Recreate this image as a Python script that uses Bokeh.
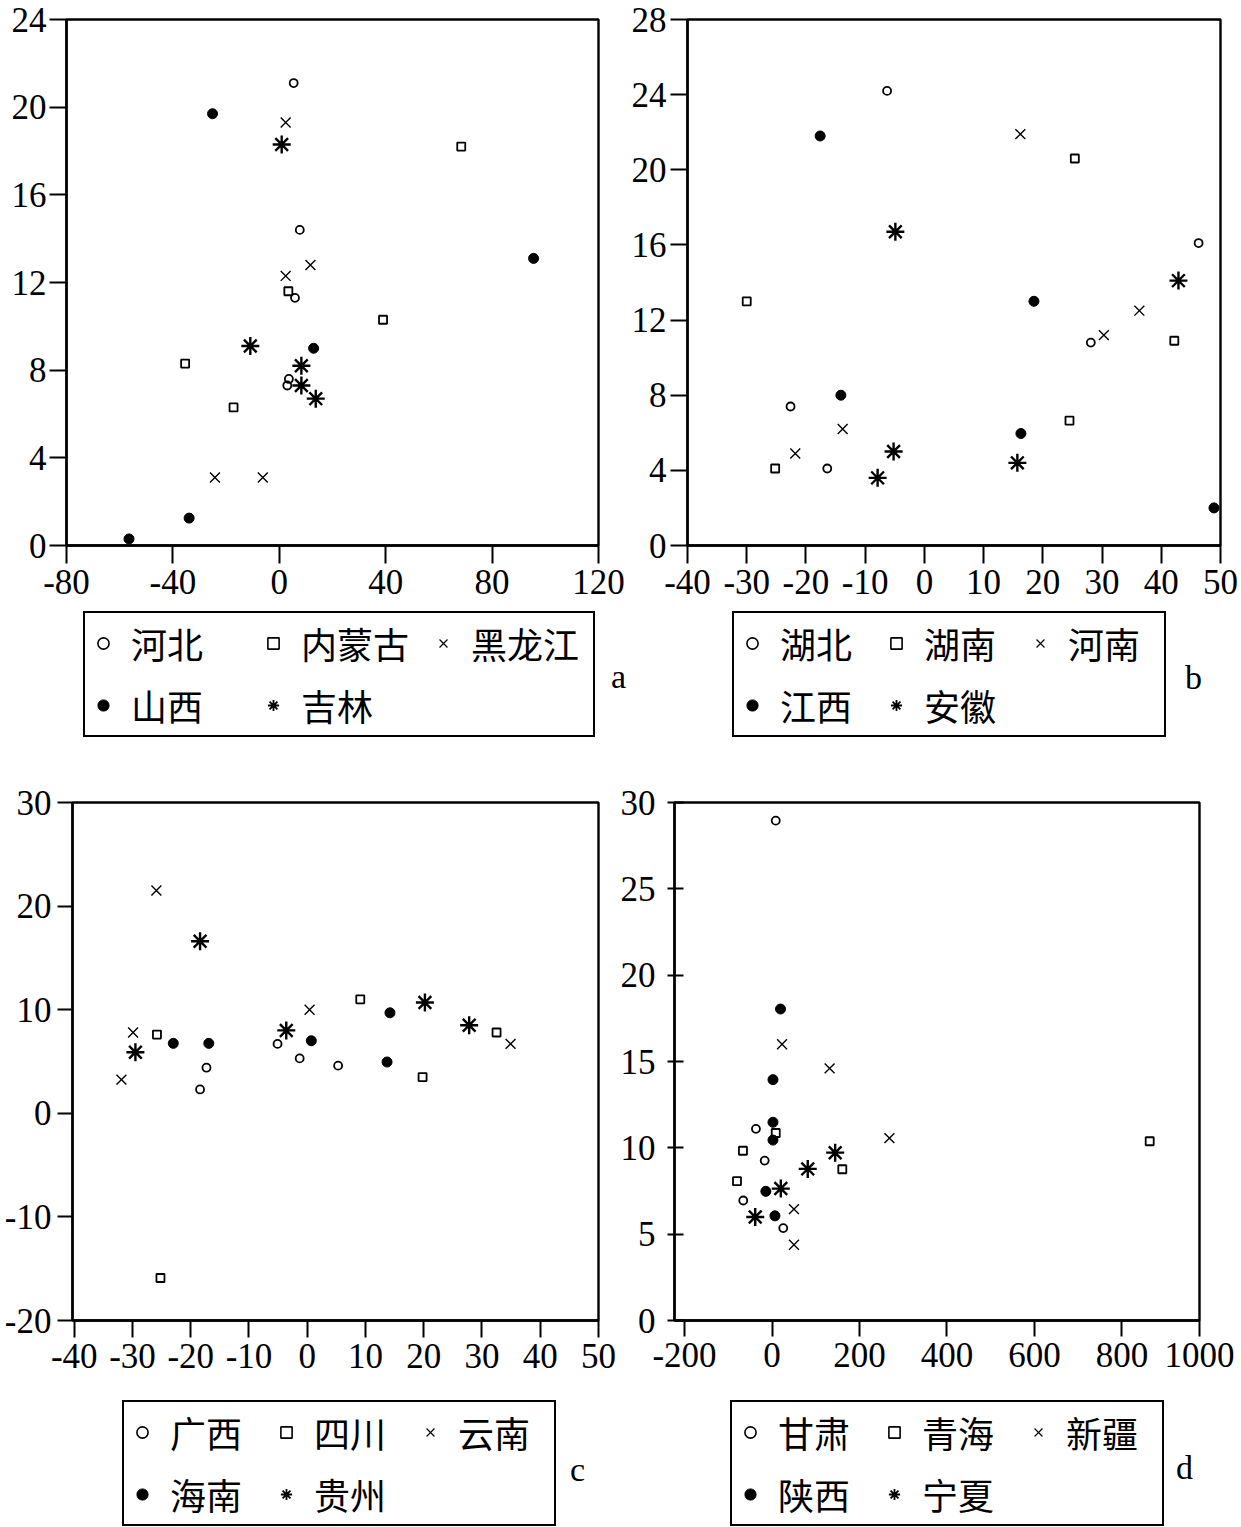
from bokeh.plotting import figure
from bokeh.models import FixedTicker, Legend, LegendItem, Label, Range1d
from bokeh.layouts import row, column
from bokeh.core.properties import value
from bokeh.embed import file_html
from bokeh.resources import INLINE

# ---------------- data ----------------
# panel a
A_NAMES = ["河北", "内蒙古", "黑龙江", "山西", "吉林"]
HEBEI_X = [5.4, 7.7, 5.9, 3.6, 3.0]
HEBEI_Y = [21.1, 14.4, 11.3, 7.6, 7.3]
NEIMENGGU_X = [68.4, 3.4, 39.0, -35.4, -17.2]
NEIMENGGU_Y = [18.2, 11.6, 10.3, 8.3, 6.3]
HEILONGJIANG_X = [2.4, 11.7, 2.4, -24.2, -6.2]
HEILONGJIANG_Y = [19.3, 12.8, 12.3, 3.1, 3.1]
SHANXI_X = [-25.1, 95.6, 12.9, -33.9, -56.5]
SHANXI_Y = [19.7, 13.1, 9.0, 1.25, 0.3]
JILIN_X = [0.9, -10.9, 8.3, 8.3, 13.7]
JILIN_Y = [18.3, 9.1, 8.2, 7.3, 6.7]
A_XTICKS = [-80, -40, 0, 40, 80, 120]
A_YTICKS = [0, 4, 8, 12, 16, 20, 24]

# panel b
B_NAMES = ["湖北", "湖南", "河南", "江西", "安徽"]
HUBEI_X = [-6.3, 46.3, 28.1, -22.6, -16.4]
HUBEI_Y = [24.2, 16.1, 10.8, 7.4, 4.1]
HUNAN_X = [25.4, -30.0, 42.2, 24.5, -25.2]
HUNAN_Y = [20.6, 13.0, 10.9, 6.65, 4.1]
HENAN_X = [16.2, 36.3, 30.3, -13.8, -21.8]
HENAN_Y = [21.9, 12.5, 11.2, 6.2, 4.9]
JIANGXI_X = [-17.6, 18.5, -14.1, 16.3, 48.9]
JIANGXI_Y = [21.8, 13.0, 8.0, 5.96, 2.0]
ANHUI_X = [-4.9, 42.9, -5.2, 15.7, -7.9]
ANHUI_Y = [16.7, 14.1, 5.0, 4.4, 3.6]
B_XTICKS = [-40, -30, -20, -10, 0, 10, 20, 30, 40, 50]
B_YTICKS = [0, 4, 8, 12, 16, 20, 24, 28]

# panel c
C_NAMES = ["广西", "四川", "云南", "海南", "贵州"]
GUANGXI_X = [-5.1, -17.3, -18.4, -1.3, 5.3]
GUANGXI_Y = [6.7, 4.4, 2.3, 5.3, 4.6]
SICHUAN_X = [-25.8, -25.2, 9.1, 19.8, 32.5]
SICHUAN_Y = [7.6, -15.9, 11.0, 3.5, 7.8]
YUNNAN_X = [-25.9, -29.9, -31.9, 0.4, 34.9]
YUNNAN_Y = [21.5, 7.8, 3.25, 10.0, 6.7]
HAINAN_X = [-23.0, -16.9, 0.7, 14.2, 13.7]
HAINAN_Y = [6.75, 6.75, 7.0, 9.7, 4.95]
GUIZHOU_X = [-29.5, -18.4, -3.6, 20.2, 27.8]
GUIZHOU_Y = [5.9, 16.6, 8.0, 10.7, 8.5]
C_XTICKS = [-40, -30, -20, -10, 0, 10, 20, 30, 40, 50]
C_YTICKS = [-20, -10, 0, 10, 20, 30]

# panel d
D_NAMES = ["甘肃", "青海", "新疆", "陕西", "宁夏"]
GANSU_X = [8.5, -36.8, -16.8, -65.8, 25.7]
GANSU_Y = [28.95, 11.1, 9.26, 6.95, 5.35]
QINGHAI_X = [8.5, -66.5, -80.1, 160.7, 863.6]
QINGHAI_Y = [10.86, 9.83, 8.07, 8.76, 10.38]
XINJIANG_X = [23.0, 131.7, 268.5, 50.2, 50.2]
XINJIANG_Y = [16.0, 14.6, 10.56, 6.45, 4.39]
SHAANXI_X = [19.4, 2.2, 2.2, 2.2, -14.1, 6.7]
SHAANXI_Y = [18.04, 13.95, 11.48, 10.45, 7.48, 6.06]
NINGXIA_X = [-38.4, 20.1, 81.7, 144.4]
NINGXIA_Y = [5.99, 7.64, 8.78, 9.72]
D_XTICKS = [-200, 0, 200, 400, 600, 800]
D_XEND_LABEL = "1000"
D_YTICKS = [0, 5, 10, 15, 20, 25, 30]

# ---------------- styles ----------------
MARKERS = [
    dict(marker="circle", size=8, fill_color=None, line_color="black", line_width=1.8),
    dict(marker="square", size=8, fill_color=None, line_color="black", line_width=1.8),
    dict(marker="x", size=14, fill_color=None, line_color="black", line_width=1.4),
    dict(marker="circle", size=10, fill_color="black", line_color="black", line_width=1),
    dict(marker="asterisk", size=18, fill_color=None, line_color="black", line_width=2.4),
]
LEGEND_MARKERS = [
    dict(marker="circle", size=8, fill_color=None, line_color="black", line_width=1.6),
    dict(marker="square", size=8, fill_color=None, line_color="black", line_width=1.6),
    dict(marker="x", size=14, fill_color=None, line_color="black", line_width=1.2),
    dict(marker="circle", size=10, fill_color="black", line_color="black", line_width=1),
    dict(marker="asterisk", size=18, fill_color=None, line_color="black", line_width=1.8),
]
NUM_FONT = "Liberation Serif"
CJK_FONT = "Noto Sans CJK SC"


def no_frame_align(fig):
    try:
        fig.frame_align = False
    except Exception:
        pass


def build_scatter(panel):
    fl, fr, ft, fb = panel["frame"]
    W, H = panel["size"]
    p = figure(width=W, height=H, title=None,
               x_range=Range1d(*panel["xr"]), y_range=Range1d(*panel["yr"]),
               output_backend="svg", toolbar_location=None,
               min_border_left=fl, min_border_right=W - fr,
               min_border_top=ft, min_border_bottom=H - fb)
    no_frame_align(p)
    p.xgrid.visible = False
    p.ygrid.visible = False
    p.outline_line_color = "black"
    p.outline_line_width = 2.4
    p.outline_line_alpha = 1
    p.background_fill_color = "white"
    p.border_fill_color = "white"

    xt = list(panel["xticks"])
    yt = list(panel["yticks"])
    p.xaxis.ticker = FixedTicker(ticks=xt)
    p.yaxis.ticker = FixedTicker(ticks=yt)
    xover = {t: str(t) for t in xt}
    xover.update(panel.get("xover", {}))
    p.xaxis.major_label_overrides = xover
    p.yaxis.major_label_overrides = {t: str(t) for t in yt}
    for ax, tout, tin, stand in ((p.xaxis, panel["xtick"][0], panel["xtick"][1], 6),
                                 (p.yaxis, panel["ytick"][0], panel["ytick"][1], panel["ystand"])):
        ax.axis_line_color = "black"
        ax.axis_line_width = 2.4
        ax.major_tick_line_color = "black"
        ax.major_tick_line_width = 2
        ax.major_tick_out = tout
        ax.major_tick_in = tin
        ax.minor_tick_line_color = None
        ax.major_label_text_font = NUM_FONT
        ax.major_label_text_font_size = "35px"
        ax.major_label_text_color = "black"
        ax.major_label_standoff = stand

    for (xs, ys), st in zip(panel["series"], MARKERS):
        p.scatter(xs, ys, **st)
    return p


def build_legend(panel):
    W = panel["size"][0]
    H = panel["leg_height"]
    q = figure(width=W, height=H, title=None, x_range=Range1d(0, 1), y_range=Range1d(0, 1),
               output_backend="svg", toolbar_location=None,
               x_axis_location=None, y_axis_location=None, min_border=0)
    no_frame_align(q)
    q.xgrid.visible = False
    q.ygrid.visible = False
    q.outline_line_color = None
    q.background_fill_color = "white"
    q.border_fill_color = "white"
    items = []
    for name, (xs, ys), st in zip(panel["names"], panel["series"], LEGEND_MARKERS):
        # hidden proxy renderer: only its legend glyph is shown
        r = q.scatter(xs, ys, visible=False, **st)
        items.append(LegendItem(label=value(name), renderers=[r]))
    lx, ly = panel["legend_at"]
    leg = Legend(items=items, location=(lx, ly), orientation="horizontal", ncols=3,
                 border_line_color="black", border_line_width=2.4, border_line_alpha=1,
                 background_fill_color="white", background_fill_alpha=1,
                 inactive_fill_alpha=0,
                 padding=4, spacing=10, margin=0,
                 glyph_width=28, glyph_height=28, label_standoff=14,
                 label_width=panel["label_width"], label_height=51,
                 label_text_font=CJK_FONT, label_text_font_size="36px",
                 label_text_color="black")
    q.add_layout(leg)
    tx, ty = panel["letter_at"]
    q.add_layout(Label(x=tx, y=ty, x_units="screen", y_units="screen", text=panel["letter"],
                       text_font=NUM_FONT, text_font_size="34px", text_color="black",
                       text_align="center", text_baseline="middle"))
    return q


D_XEND = 977.5

panels = [
    dict(size=(628, 611), frame=(66, 598, 19, 545), xr=(-80, 120), yr=(0, 24),
         xticks=A_XTICKS, yticks=A_YTICKS, xtick=(18, 0), ytick=(17, 0), ystand=3,
         names=A_NAMES,
         series=[(HEBEI_X, HEBEI_Y), (NEIMENGGU_X, NEIMENGGU_Y), (HEILONGJIANG_X, HEILONGJIANG_Y),
                 (SHANXI_X, SHANXI_Y), (JILIN_X, JILIN_Y)],
         leg_height=159, legend_at=(83, 33), label_width=118, letter="a", letter_at=(618, 94)),
    dict(size=(613, 611), frame=(57, 592, 19, 545), xr=(-40, 50), yr=(0, 28),
         xticks=B_XTICKS, yticks=B_YTICKS, xtick=(18, 0), ytick=(17, 0), ystand=4,
         names=B_NAMES,
         series=[(HUBEI_X, HUBEI_Y), (HUNAN_X, HUNAN_Y), (HENAN_X, HENAN_Y),
                 (JIANGXI_X, JIANGXI_Y), (ANHUI_X, ANHUI_Y)],
         leg_height=159, legend_at=(104, 33), label_width=92, letter="b", letter_at=(565, 93)),
    dict(size=(617, 616), frame=(72, 598, 32, 550), xr=(-40.3, 50), yr=(-20, 30),
         xticks=C_XTICKS, yticks=C_YTICKS, xtick=(17, 0), ytick=(15, 0), ystand=6,
         names=C_NAMES,
         series=[(GUANGXI_X, GUANGXI_Y), (SICHUAN_X, SICHUAN_Y), (YUNNAN_X, YUNNAN_Y),
                 (HAINAN_X, HAINAN_Y), (GUIZHOU_X, GUIZHOU_Y)],
         leg_height=141, legend_at=(122, 1.5), label_width=92, letter="c", letter_at=(577, 58)),
    dict(size=(624, 616), frame=(57, 582, 32, 550), xr=(-223, D_XEND), yr=(0, 30),
         xticks=D_XTICKS + [D_XEND], xover={D_XEND: D_XEND_LABEL},
         yticks=D_YTICKS, xtick=(16, 0), ytick=(7, 9), ystand=12,
         names=D_NAMES,
         series=[(GANSU_X, GANSU_Y), (QINGHAI_X, QINGHAI_Y), (XINJIANG_X, XINJIANG_Y),
                 (SHAANXI_X, SHAANXI_Y), (NINGXIA_X, NINGXIA_Y)],
         leg_height=141, legend_at=(113, 1.5), label_width=92, letter="d", letter_at=(567, 60)),
]

sc = [build_scatter(pn) for pn in panels]
lg = [build_legend(pn) for pn in panels]
layout = column(row(sc[0], sc[1], spacing=0), row(lg[0], lg[1], spacing=0),
                row(sc[2], sc[3], spacing=0), row(lg[2], lg[3], spacing=0), spacing=0)

open("out.html", "w").write(file_html(layout, INLINE))
